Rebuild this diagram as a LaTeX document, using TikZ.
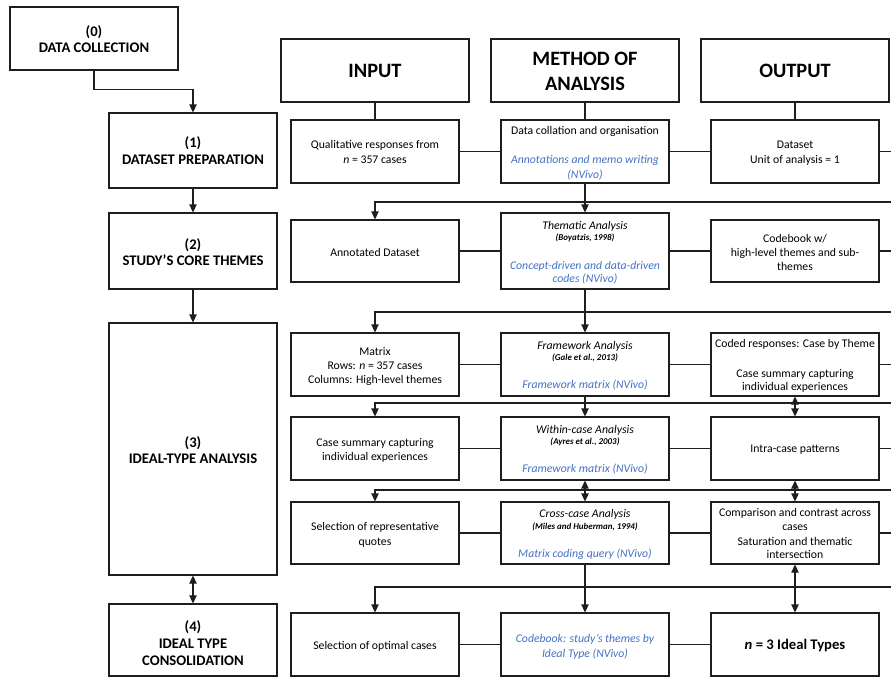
\documentclass[tikz,border=0pt]{standalone}
\usepackage{fontspec}
\setmainfont{Carlito}
\usetikzlibrary{arrows.meta}
\definecolor{nblue}{RGB}{68,114,196}
\definecolor{ln}{RGB}{30,30,30}
\newcommand\fbody{\fontsize{8.8}{11}\selectfont}
\newcommand\fcite{\fontsize{6.7}{8}\selectfont\bfseries\itshape}
\newcommand\fstage{\fontsize{11}{13}\selectfont\bfseries}
\newcommand\fhead{\fontsize{15.3}{18}\selectfont\bfseries}
\newcommand\fbig{\fontsize{11}{13}\selectfont\bfseries}
\newcommand\bx[5]{\node[box, minimum width={(#4-#2)*0.75pt}, minimum height={(#5-#3)*0.75pt}] (#1) at ({(#2+#4)/2},{(#3+#5)/2}) {};}
\newcommand\tl[5]{\node[txt,font=#4] (#1) at (#2,#3) {#5};}
\newcommand\bl[1]{\textcolor{nblue}{#1}}
\begin{document}
\begin{tikzpicture}[x=0.75pt,y=-0.75pt,
  box/.style={draw=ln, line width=0.8pt, inner sep=0pt, fill=white},
  txt/.style={anchor=base, inner sep=0pt, text=black},
  con/.style={draw=ln, line width=0.8pt},
  arr/.style={draw=ln, line width=0.8pt, -{Triangle[length=6pt,width=5.5pt]}},
  darr/.style={draw=ln, line width=0.8pt, {Triangle[length=6pt,width=5.5pt]}-{Triangle[length=6pt,width=5.5pt]}}]
\fill[white] (0,0) rectangle (891,678);
\useasboundingbox (0,0) rectangle (891,678);
\coordinate (edge) at (891,0);
% stage boxes
\bx{s0}{10}{7}{178}{70}
\bx{s1}{109}{113}{277}{188}
\bx{s2}{109}{213}{277}{289}
\bx{s3}{109}{323}{277}{575}
\bx{s4}{109}{604}{277}{676}
% header boxes
\bx{hin}{281}{39}{469}{102}
\bx{hme}{491}{39}{679}{102}
\bx{hout}{701}{39}{889}{102}
% row boxes
\bx{r1in}{291}{120}{459}{183}
\bx{r1me}{501}{120}{669}{183}
\bx{r1out}{711}{120}{879}{183}
\bx{r2in}{291}{220}{459}{282}
\bx{r2me}{501}{213}{669}{289}
\bx{r2out}{711}{220}{879}{282}
\bx{r3in}{291}{333}{459}{396}
\bx{r3me}{501}{333}{669}{396}
\bx{r3out}{711}{333}{879}{396}
\bx{r4in}{291}{417}{459}{480}
\bx{r4me}{501}{417}{669}{480}
\bx{r4out}{711}{417}{879}{480}
\bx{r5in}{291}{502}{459}{564}
\bx{r5me}{501}{502}{669}{564}
\bx{r5out}{711}{502}{879}{564}
\bx{r6in}{291}{613}{459}{676}
\bx{r6me}{501}{613}{669}{676}
\bx{r6out}{711}{613}{879}{676}
% stage texts
\tl{s0a}{94}{36.2}{\fstage}{(0)}
\tl{s0b}{94}{52.7}{\fstage}{DATA COLLECTION}
\tl{s1a}{193}{147.5}{\fstage}{(1)}
\tl{s1b}{193}{164}{\fstage}{DATASET PREPARATION}
\tl{s2a}{193}{249}{\fstage}{(2)}
\tl{s2b}{193}{265.7}{\fstage}{STUDY’S CORE THEMES}
\tl{s3a}{193}{447}{\fstage}{(3)}
\tl{s3b}{193}{463.3}{\fstage}{IDEAL-TYPE ANALYSIS}
\tl{s4a}{193}{631}{\fstage}{(4)}
\tl{s4b}{193}{648}{\fstage}{IDEAL TYPE}
\tl{s4c}{193}{665}{\fstage}{CONSOLIDATION}
% header texts
\tl{hina}{375}{77.3}{\fhead}{INPUT}
\tl{hmea}{585}{65.7}{\fhead}{METHOD OF}
\tl{hmeb}{585}{90.7}{\fhead}{ANALYSIS}
\tl{houta}{795}{77.3}{\fhead}{OUTPUT}
% row 1
\tl{t1a}{375}{148.5}{\fbody}{Qualitative responses from}
\tl{t1b}{375}{163.5}{\fbody}{\textit{n} = 357 cases}
\tl{t1c}{585}{134.5}{\fbody}{Data collation and organisation}
\tl{t1d}{585}{163.5}{\fbody\itshape}{\bl{Annotations and memo writing}}
\tl{t1e}{585}{178.5}{\fbody\itshape}{\bl{(NVivo)}}
\tl{t1f}{795}{148.5}{\fbody}{Dataset}
\tl{t1g}{795}{163.5}{\fbody}{Unit of analysis = 1}
% row 2
\tl{t2a}{375}{256.5}{\fbody}{Annotated Dataset}
\tl{t2b}{585}{229.8}{\fbody\itshape}{Thematic Analysis}
\tl{t2c}{585}{240.3}{\fcite}{(Boyatzis, 1998)}
\tl{t2d}{585}{269.5}{\fbody\itshape}{\bl{Concept-driven and data-driven}}
\tl{t2e}{585}{282.2}{\fbody\itshape}{\bl{codes (NVivo)}}
\tl{t2f}{795}{242.2}{\fbody}{Codebook w/}
\tl{t2g}{795}{256.5}{\fbody}{high-level themes and sub-}
\tl{t2h}{795}{270.5}{\fbody}{themes}
% row 3
\tl{t3a}{375}{355.2}{\fbody}{Matrix}
\tl{t3b}{375}{369.5}{\fbody}{Rows: \textit{n} = 357 cases}
\tl{t3c}{375}{383.8}{\fbody}{Columns: High-level themes}
\tl{t3d}{585}{349.5}{\fbody\itshape}{Framework Analysis}
\tl{t3e}{585}{360.7}{\fcite}{(Gale et al., 2013)}
\tl{t3f}{585}{388.5}{\fbody\itshape}{\bl{Framework matrix (NVivo)}}
\tl{t3g}{795}{347.8}{\fbody}{Coded responses: Case by Theme}
\tl{t3h}{795}{377.2}{\fbody}{Case summary capturing}
\tl{t3i}{795}{390.5}{\fbody}{individual experiences}
% row 4
\tl{t4a}{375}{446.8}{\fbody}{Case summary capturing}
\tl{t4b}{375}{460.5}{\fbody}{individual experiences}
\tl{t4c}{585}{433.5}{\fbody\itshape}{Within-case Analysis}
\tl{t4d}{585}{444.7}{\fcite}{(Ayres et al., 2003)}
\tl{t4e}{585}{472.8}{\fbody\itshape}{\bl{Framework matrix (NVivo)}}
\tl{t4f}{795}{452.8}{\fbody}{Intra-case patterns}
% row 5
\tl{t5a}{375}{530.5}{\fbody}{Selection of representative}
\tl{t5b}{375}{545.2}{\fbody}{quotes}
\tl{t5c}{585}{517.8}{\fbody\itshape}{Cross-case Analysis}
\tl{t5d}{585}{529}{\fcite}{(Miles and Huberman, 1994)}
\tl{t5e}{585}{557.2}{\fbody\itshape}{\bl{Matrix coding query (NVivo)}}
\tl{t5f}{795}{516.2}{\fbody}{Comparison and contrast across}
\tl{t5g}{795}{530.5}{\fbody}{cases}
\tl{t5h}{795}{545.2}{\fbody}{Saturation and thematic}
\tl{t5i}{795}{558.5}{\fbody}{intersection}
% row 6
\tl{t6a}{375}{649.5}{\fbody}{Selection of optimal cases}
\tl{t6b}{585}{642.8}{\fbody\itshape}{\bl{Codebook: study’s themes by}}
\tl{t6c}{585}{657.2}{\fbody\itshape}{\bl{Ideal Type (NVivo)}}
\tl{t6d}{795}{649}{\fbig}{\textit{n} = 3 Ideal Types}
% stage connectors
\draw[arr] (s0.south) -- ++(0,19) -| (s1.north);
\draw[arr] (s1.south) -- (s2.north);
\draw[arr] (s2.south) -- (s3.north);
\draw[darr] (s3.south) -- (s4.north);
% header connectors
\draw[con] (hin.south) -- (r1in.north);
\draw[con] (hme.south) -- (r1me.north);
\draw[con] (hout.south) -- (r1out.north);
% row connectors
\foreach \r in {1,...,6}{
  \draw[con] (r\r in.east) -- (r\r me.west);
  \draw[con] (r\r me.east) -- (r\r out.west);
}
\foreach \r in {1,...,5}{
  \draw[con] (r\r out.east) -- (r\r out.east -| edge);
}
% loop-back lines between rows
\coordinate (e12) at (891,202);
\coordinate (e23) at (891,312);
\coordinate (e34) at (891,403);
\coordinate (e45) at (891,490);
\coordinate (e56) at (891,587);
\draw[arr] (e12) -| (r2in.north);
\draw[arr] (e23) -| (r3in.north);
\draw[arr] (e34) -| (r4in.north);
\draw[arr] (e45) -| (r5in.north);
\draw[arr] (e56) -| (r6in.north);
% method column
\draw[arr] (r1me.south) -- (r2me.north);
\draw[arr] (r2me.south) -- (r3me.north);
\draw[arr] (r3me.south) -- (r4me.north);
\draw[darr] (r4me.south) -- (r5me.north);
\draw[arr] (r5me.south) -- (r6me.north);
% output column
\draw[darr] (r3out.south) -- (r4out.north);
\draw[darr] (r4out.south) -- (r5out.north);
\draw[darr] (r5out.south) -- (r6out.north);
\end{tikzpicture}
\end{document}
